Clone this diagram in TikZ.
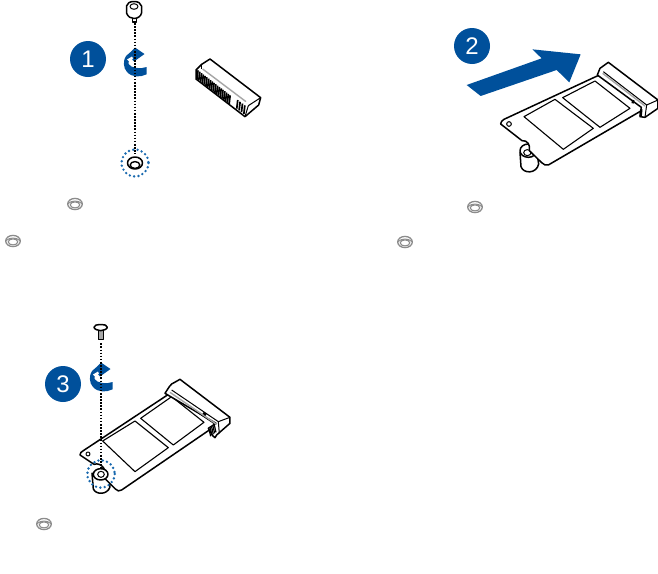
\documentclass[tikz,border=0pt]{standalone}
\usepackage{fontspec}
\setsansfont{Liberation Sans}
\usetikzlibrary{calc}
\definecolor{asusblue}{RGB}{0,80,155}
\definecolor{dotblue}{RGB}{25,105,175}
\definecolor{holegray}{RGB}{140,140,140}
\tikzset{
  badge/.style={circle, fill=asusblue, text=white, minimum size=36pt, inner sep=0pt, font=\sffamily\fontsize{24}{24}\selectfont},
  outline/.style={draw=black, line width=1.5pt, line join=round, fill=white},
  chip/.style={draw=black, line width=1.1pt, line join=round, fill=white},
  thinline/.style={black, line width=1pt, line join=round},
  shade/.style={gray!70, line width=1.4pt},
  guide/.style={black, line width=1.8pt, dash pattern=on 1.6pt off 1.5pt},
  ring/.style={dotblue, line width=2.7pt, line cap=round, dash pattern=on 0pt off 4.4pt},
  rotarrow/.pic={
    \fill[asusblue] (11.7,5) -- (11.7,12.3) .. controls (5,15.5) and (-3,15.5) .. (-8,10)
      .. controls (-12,6) and (-12,-2) .. (-9,-6) -- (-4,-5) .. controls (-6,-2) and (-7,0) .. (-6.5,2)
      .. controls (-4,6) and (5,7.5) .. cycle;
    \fill[asusblue] (-9,-6) -- (-5,-9.5) -- (0,-14.5) -- (9.5,-8) -- (-1,-0.5) -- (-4,-4) -- cycle;
    \fill[white] (-8,-2.5) -- (-3,-5.5) -- (-2,-3.5) -- (-6,-0.5) -- cycle;
  },
  smallhole/.pic={
    \draw[holegray, line width=1.3pt, fill=white] (0,0) ellipse (7.3 and 5.6);
    \draw[holegray, line width=1.1pt] (0,0.9) ellipse (4.8 and 3);
    \draw[holegray, line width=1pt] (-6.8,-0.5) .. controls (-3,-3.8) and (3,-3.8) .. (6.8,-0.5);
  }
}
\begin{document}
\begin{tikzpicture}[x=1pt, y=-1pt]
  \useasboundingbox (0,0) rectangle (658,573);
  % small holes in the captions
  \foreach \px/\py in {75/204, 13/241, 475/207, 405/242, 44/524}
    \pic at (\px,\py) {smallhole};
  % step 1
  \node[badge] (one) at (88,59) {1};
  \coordinate (pinA) at (134.7,23);
  \coordinate (holeA) at (134.7,154);
  \pic at (135,62) {rotarrow};
  \draw[guide] (pinA) -- (holeA);
  \draw[outline] (132.5,16) -- (132.5,22) -- (136.5,22) -- (136.5,16);
  \draw[outline] (126.5,6) -- (126.5,13) .. controls (128,17) and (131,18.5) .. (134,18.5)
    .. controls (138,18.5) and (141,16) .. (141.5,13) -- (141.5,6) .. controls (141,3) and (138,1.5) .. (134,1.5)
    .. controls (130,1.5) and (127,3) .. (126.5,6) -- cycle;
  \draw[thinline] (134,6.5) ellipse (4 and 2.8);
  \draw[outline] (135,163) ellipse (7.5 and 6);
  \draw[black, line width=1.4pt] (135,165) ellipse (4.8 and 3.4);
  \draw[ring] (135,163) circle (13.5);
  % socket
  \begin{scope}[shift={(190,55)}, scale=0.3333]
    \draw[outline] (60,12) -- (212,128) -- (206,150) -- (165,185) -- (18,72) -- (18,45) -- (35,28) -- cycle;
    \draw[thinline] (35,28) -- (35,42);
    \draw[shade] (38,42) -- (168,140);
    \draw[thinline] (175,152) -- (212,128);
    \draw[thinline] (175,152) -- (165,185);
    \foreach \t in {0,0.04,...,0.74}
      \draw[black, line width=1.7pt] ($(24,46)!\t!(158,150)$) -- ++(-3,26);
    \foreach \t in {0.84,0.89,...,1}
      \draw[black, line width=1.7pt] ($(24,46)!\t!(166,152)$) -- ++(-3,26);
  \end{scope}
  % step 2
  \node[badge] (two) at (472,46) {2};
  \begin{scope}[shift={(440,20)}, scale=0.3333]
    \fill[asusblue] (80,195) -- (122,228) -- (350,150) -- (388,187) -- (422,103) -- (277,88) -- (305,115) -- cycle;
    % standoff under the card
    \draw[outline] (240,397) -- (243,440) .. controls (250,462) and (290,462) .. (296,432) -- (290,395) -- cycle;
    \draw[outline] (265,392) ellipse (25 and 20);
    \draw[thinline, fill=white] (262,398) ellipse (11 and 9);
    % card
    \draw[outline] (182,312) .. controls (182,306) and (186,302) .. (192,298) -- (478,165) -- (625,260) -- (325,435)
      .. controls (318,438) and (312,434) .. (305,428) -- (268,392) .. controls (272,375) and (262,360) .. (246,362) -- cycle;
    \draw[chip] (252,290) -- (345,238) -- (460,325) -- (370,388) -- cycle;
    \draw[chip] (368,233) -- (465,183) -- (570,265) -- (480,322) -- cycle;
    \draw[thinline] (207,312) circle (7);
    % socket on the card
    \draw[outline] (472,165) -- (480,145) -- (505,127) -- (654,240) -- (654,265) -- (615,292) -- (600,290) -- (604,262) -- cycle;
    \draw[shade] (488,160) -- (615,258);
    \draw[thinline] (490,155) -- (620,255) -- (654,240);
    \draw[thinline] (620,255) -- (615,292);
    \draw[black, line width=2.4pt] (580,240) -- (578,250);
    \draw[black, line width=2.4pt] (604,268) -- (602,288);
  \end{scope}
  % step 3
  \node[badge] (three) at (63,384) {3};
  \pic at (101,377) {rotarrow};
  \begin{scope}[shift={(30,315)}, scale=0.3333]
    % standoff under the card
    \draw[outline] (186,475) -- (190,522) .. controls (198,540) and (232,540) .. (240,516) -- (240,478) -- cycle;
    % card
    \draw[outline] (150,420) .. controls (150,414) and (154,410) .. (160,407) -- (420,235) -- (560,330) -- (275,525)
      .. controls (268,530) and (262,528) .. (256,522) -- (222,488) .. controls (235,470) and (215,440) .. (192,448) -- cycle;
    \draw[chip] (218,378) -- (315,318) -- (415,398) -- (315,470) -- cycle;
    \draw[chip] (332,310) -- (425,245) -- (522,322) -- (430,390) -- cycle;
    \draw[thinline] (174,417) circle (6);
    \draw[outline] (212,478) ellipse (22 and 17);
    \draw[thinline, fill=white] (213,478) ellipse (10 and 9);
    % socket on the card
    \draw[outline] (405,235) -- (418,215) -- (425,207) -- (450,193) -- (600,307) -- (600,325) -- (560,360) -- (555,368)
      -- (548,362) -- (535,340) -- (558,325) -- cycle;
    \draw[shade] (420,232) -- (560,328);
    \draw[thinline] (425,225) -- (565,320) -- (600,307);
    \draw[thinline] (565,320) -- (568,355);
    \draw[black, line width=2.4pt] (520,293) -- (528,300);
    \foreach \t in {0,0.25,...,1}
      \draw[black, line width=1.2pt] ($(537,342)!\t!(553,330)$) -- ++(5,22);
    \coordinate (pinC) at (212,85);
    \coordinate (holeC) at (212,460);
    \draw[guide] (pinC) -- (holeC);
    % screw
    \draw[outline, fill=gray!70] (205,45) -- (205,74) -- (220,74) -- (220,45) -- cycle;
    \draw[outline] (192,37) .. controls (192,30) and (200,29) .. (212,29) .. controls (224,29) and (232,30) .. (232,37)
      .. controls (232,42) and (220,47) .. (212,47) .. controls (204,47) and (192,42) .. (192,37) -- cycle;
    \draw[ring] (213,477) circle (41);
  \end{scope}
\end{tikzpicture}
\end{document}
